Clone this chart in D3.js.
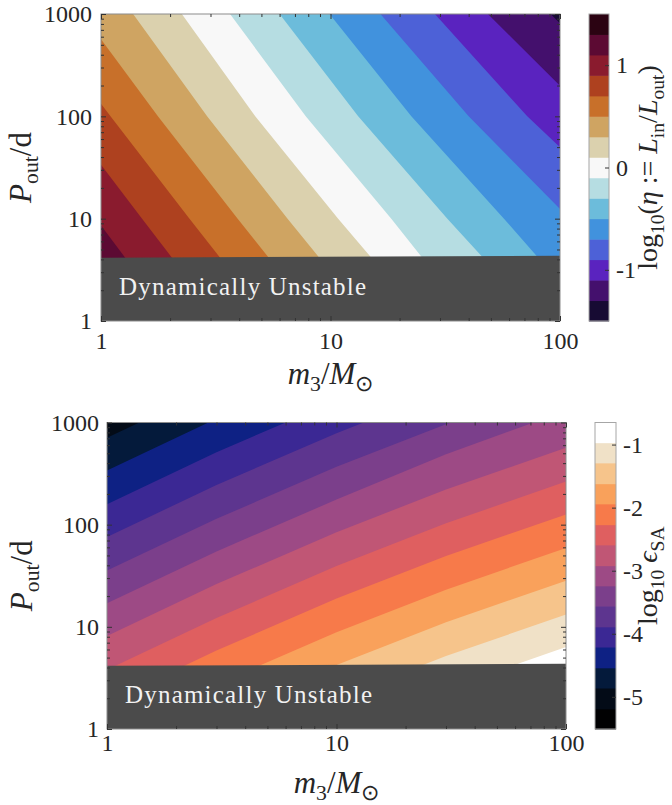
<!DOCTYPE html>
<html lang="en">
<head>
<meta charset="UTF-8">
<title>Triple: eta and epsilon_SA maps</title>
<script src="https://d3js.org/d3.v7.min.js"></script>
<style>
    body { margin: 0; background: #ffffff; }
    svg text { font-family: "Liberation Serif", "Times New Roman", serif; fill: #262626; }
</style>
</head>
<body>
<svg id="chart" width="672" height="805"></svg>
<script>
    // ---------- values ----------
    const massDomain = [1, 100];        // m3 / Msun
    const periodDomain = [1, 1000];     // Pout / d
    const massLabels = [1, 10, 100];
    const periodLabels = [1, 10, 100, 1000];

    // edge of the dynamically unstable region (grey), Pout at m3 = 1 and 100
    const unstableM = [1, 100];
    const unstableP = [4.15, 4.35];

    // top panel: log10 eta, 15 filled levels
    const etaLevels = [-1.5, -1.3, -1.1, -0.9, -0.7, -0.5, -0.3, -0.1, 0.1, 0.3, 0.5, 0.7, 0.9, 1.1, 1.3, 1.5];
    const etaColors = ['#170b33', '#44106d', '#5a23bf', '#4d61d7', '#4192dd', '#6cbcdb', '#b6dde2',
        '#f8f8f8', '#dbd1ae', '#cfa462', '#c8702a', '#ae411f', '#8a1b2e', '#5c0a33', '#2b0312'];
    const etaTicks = [-1, 0, 1];
    // contour positions: m3 where each inner level crosses Pout = 1000, 100, 10, 4.2
    const etaRowP = [1000, 100, 10, 4.2];
    const etaRowM = [
        [91, 262, 817, 1200],      // -1.3
        [48.5, 136, 410, 630],     // -1.1
        [28.5, 72, 213, 320],      // -0.9
        [16.5, 40, 110, 164],      // -0.7
        [9.9, 22.5, 57, 80],       // -0.5
        [6.0, 13.2, 32.3, 46],     // -0.3
        [3.65, 7.8, 18.4, 25],     // -0.1
        [2.25, 4.7, 10.8, 15],     //  0.1
        [1.38, 2.9, 6.5, 8.9],     //  0.3
        [0.83, 1.77, 3.94, 5.36],  //  0.5
        [0.51, 1.10, 2.43, 3.29],  //  0.7
        [0.32, 0.69, 1.51, 2.03],  //  0.9
        [0.2, 0.44, 0.95, 1.27],   //  1.1
        [0.13, 0.28, 0.6, 0.8]     //  1.3
    ];

    // bottom panel: log10 eps_SA, 15 filled levels
    const epsLevels = [-5.51, -5.19, -4.86, -4.54, -4.21, -3.89, -3.56, -3.24, -2.92, -2.59, -2.27, -1.94, -1.62, -1.29, -0.97, -0.65];
    const epsColors = ['#010102', '#030b17', '#041a3b', '#0e2184', '#3b2894', '#5d358f', '#7b3f8b',
        '#9d4a85', '#c05675', '#df5f60', '#f77a4a', '#f9a15b', '#f6c48b', '#f0e1c7', '#ffffff'];
    const epsTicks = [-5, -4, -3, -2, -1];
    // contour positions: Pout where each inner level crosses m3 = 1, 3, 10, 30, 100
    const epsColM = [1, 3, 10, 30, 100];
    const epsColP = [
        [1510, 4880, 15700, 41100, 105000],  // -5.19
        [708, 2280, 7350, 19200, 49200],     // -4.86
        [339, 1090, 3520, 9200, 23500],      // -4.54
        [158, 511, 1640, 4310, 11000],       // -4.21
        [75.9, 244, 787, 2060, 5270],        // -3.89
        [35.5, 114, 368, 964, 2470],         // -3.56
        [17.0, 54.7, 176, 490, 1300],        // -3.24
        [8.13, 26.2, 84.3, 221, 565],        // -2.92
        [3.80, 12.2, 39.4, 103, 264],        // -2.59
        [1.82, 5.86, 18.9, 49.4, 126],       // -2.27
        [0.851, 2.74, 8.83, 23.1, 59.2],     // -1.94
        [0.407, 1.31, 4.23, 11.1, 28.3],     // -1.62
        [0.191, 0.614, 1.98, 5.18, 13.2],    // -1.29
        [0.0912, 0.294, 0.946, 2.48, 6.34]   // -0.97
    ];

    // ---------- panels ----------
    const svg = d3.select('#chart');

    const panels = [
        {
            id: 'eta',
            box: { left: 101, right: 560, top: 14, bottom: 321 },
            cbar: { left: 589, right: 609 },
            levels: etaLevels, colors: etaColors, ticks: etaTicks,
            bounds: etaRowM.map(row => row.map((m, i) => [m, etaRowP[i]])),
            far: [-30000, 30000],
            xPad: 11, yPad: 9, xLabelY: 384, yLabelX: 31, cbLabelX: 657,
            cbLabel: [['log'], ['10', 's'], ['('], ['η', 'i'], [' := '], ['L', 'i'], ['in', 's'], ['/'], ['L', 'i'], ['out', 's'], [')']]
        },
        {
            id: 'eps',
            box: { left: 107, right: 566, top: 422.5, bottom: 729 },
            cbar: { left: 595, right: 616 },
            levels: epsLevels, colors: epsColors, ticks: epsTicks,
            bounds: epsColP.map(row => row.map((p, i) => [epsColM[i], p])),
            far: [30000, 30000],
            xPad: 5, yPad: 8, xLabelY: 793, yLabelX: 32, cbLabelX: 657,
            cbLabel: [['log'], ['10', 's'], [' '], ['ϵ', 'i'], ['SA', 's']]
        }
    ];

    // text with italic parts and subscripts
    function mathText(sel, parts, size) {
        const t = sel.append('text').attr('font-size', size);
        let shift = 0;
        parts.forEach(([s, st]) => {
            const sub = st === 's';
            const target = sub ? size * 0.24 : 0;
            const sp = t.append('tspan').text(s).attr('dy', target - shift);
            shift = target;
            if (sub) sp.attr('font-size', size * 0.7);
            if (st === 'i') sp.attr('font-style', 'italic');
        });
        return t;
    }

    // polygon covering the high side of one contour, extended along its end tangents
    function sidePath(pts, far) {
        const n = pts.length;
        const ext = (a, b) => {
            const dx = b[0] - a[0], dy = b[1] - a[1], l = Math.hypot(dx, dy);
            return [b[0] + dx / l * 4000, b[1] + dy / l * 4000];
        };
        const start = ext(pts[1], pts[0]);
        const end = ext(pts[n - 2], pts[n - 1]);
        return d3.line()([start, ...pts, end, far]) + 'Z';
    }

    function styleAxis(g, size) {
        g.attr('font-family', null).attr('font-size', size).attr('color', '#262626');
        g.select('.domain').remove();
        g.selectAll('.tick line').attr('stroke', '#333');
    }

    panels.forEach(p => {
        const b = p.box;
        const x = d3.scaleLog().domain(massDomain).range([b.left, b.right]);
        const y = d3.scaleLog().domain(periodDomain).range([b.bottom, b.top]);
        const g = svg.append('g');

        g.append('clipPath').attr('id', 'clip-' + p.id)
            .append('rect')
            .attr('x', b.left).attr('y', b.top)
            .attr('width', b.right - b.left).attr('height', b.bottom - b.top);

        const fills = g.append('g').attr('clip-path', `url(#clip-${p.id})`);

        fills.append('rect')
            .attr('x', b.left).attr('y', b.top)
            .attr('width', b.right - b.left).attr('height', b.bottom - b.top)
            .attr('fill', p.colors[0]);

        fills.selectAll('path.band')
            .data(p.bounds)
            .join('path')
            .attr('class', 'band')
            .attr('fill', (d, i) => p.colors[i + 1])
            .attr('d', d => sidePath(d.map(([m, pp]) => [x(m), y(pp)]), p.far));

        // dynamically unstable region
        const unstable = [
            [x(unstableM[0]), y(unstableP[0])],
            [x(unstableM[1]), y(unstableP[1])],
            [x(unstableM[1]), y(periodDomain[0])],
            [x(unstableM[0]), y(periodDomain[0])]
        ];
        fills.append('path')
            .attr('d', d3.line()(unstable) + 'Z')
            .attr('fill', '#4b4b4b');

        g.append('text')
            .attr('x', b.left + 18)
            .attr('y', b.bottom - 26)
            .attr('font-size', 25)
            .attr('letter-spacing', 1.2)
            .style('fill', '#f2f2f2')
            .text('Dynamically Unstable');

        // frame
        g.append('rect')
            .attr('x', b.left).attr('y', b.top)
            .attr('width', b.right - b.left).attr('height', b.bottom - b.top)
            .attr('fill', 'none')
            .attr('stroke', '#8c8c8c')
            .attr('stroke-width', 1);

        // ticks: majors on decades, minors in between, on all four sides
        const isMajor = v => Math.abs(Math.log10(v) - Math.round(Math.log10(v))) < 1e-9;
        const xMinor = x.ticks().filter(v => !isMajor(v));
        const yMinor = y.ticks().filter(v => !isMajor(v));

        g.append('g').attr('transform', `translate(0,${b.bottom})`)
            .call(d3.axisBottom(x).tickValues(massLabels).tickSizeInner(-5).tickSizeOuter(0)
                .tickPadding(p.xPad).tickFormat(d3.format('d')))
            .call(a => styleAxis(a, 24));
        g.append('g').attr('transform', `translate(0,${b.bottom})`)
            .call(d3.axisBottom(x).tickValues(xMinor).tickSize(-3).tickFormat(''))
            .call(a => styleAxis(a, 24));
        g.append('g').attr('transform', `translate(0,${b.top})`)
            .call(d3.axisTop(x).tickValues(massLabels).tickSize(-5).tickFormat(''))
            .call(a => styleAxis(a, 24));
        g.append('g').attr('transform', `translate(0,${b.top})`)
            .call(d3.axisTop(x).tickValues(xMinor).tickSize(-3).tickFormat(''))
            .call(a => styleAxis(a, 24));

        g.append('g').attr('transform', `translate(${b.left},0)`)
            .call(d3.axisLeft(y).tickValues(periodLabels).tickSizeInner(-5).tickSizeOuter(0)
                .tickPadding(p.yPad).tickFormat(d3.format('d')))
            .call(a => styleAxis(a, 24));
        g.append('g').attr('transform', `translate(${b.left},0)`)
            .call(d3.axisLeft(y).tickValues(yMinor).tickSize(-3).tickFormat(''))
            .call(a => styleAxis(a, 24));
        g.append('g').attr('transform', `translate(${b.right},0)`)
            .call(d3.axisRight(y).tickValues(periodLabels).tickSize(-5).tickFormat(''))
            .call(a => styleAxis(a, 24));
        g.append('g').attr('transform', `translate(${b.right},0)`)
            .call(d3.axisRight(y).tickValues(yMinor).tickSize(-3).tickFormat(''))
            .call(a => styleAxis(a, 24));

        // axis titles
        mathText(g, [['m', 'i'], ['3', 's'], ['/'], ['M', 'i'], ['⊙', 's']], 31)
            .attr('x', (b.left + b.right) / 2)
            .attr('y', p.xLabelY)
            .attr('text-anchor', 'middle');

        mathText(g, [['P', 'i'], ['out', 's'], ['/d']], 31)
            .attr('text-anchor', 'middle')
            .attr('transform', `translate(${p.yLabelX},${(b.top + b.bottom) / 2}) rotate(-90)`);

        // colour bar
        const c = p.cbar;
        const cy = d3.scaleLinear()
            .domain([p.levels[0], p.levels[p.levels.length - 1]])
            .range([b.bottom, b.top]);
        g.append('g').selectAll('rect')
            .data(p.colors)
            .join('rect')
            .attr('x', c.left)
            .attr('width', c.right - c.left)
            .attr('y', (d, i) => cy(p.levels[i + 1]))
            .attr('height', (d, i) => cy(p.levels[i]) - cy(p.levels[i + 1]) + 0.5)
            .attr('fill', d => d);
        g.append('rect')
            .attr('x', c.left).attr('y', b.top)
            .attr('width', c.right - c.left).attr('height', b.bottom - b.top)
            .attr('fill', 'none')
            .attr('stroke', '#a6a6a6');
        g.append('g').attr('transform', `translate(${c.right},0)`)
            .call(d3.axisRight(cy).tickValues(p.ticks).tickSizeInner(-4).tickSizeOuter(0)
                .tickPadding(7).tickFormat(d => String(d)))
            .call(a => styleAxis(a, 24));

        mathText(g, p.cbLabel, 28)
            .attr('text-anchor', 'middle')
            .attr('transform', `translate(${p.cbLabelX},${(b.top + b.bottom) / 2}) rotate(-90)`);
    });
</script>
</body>
</html>
